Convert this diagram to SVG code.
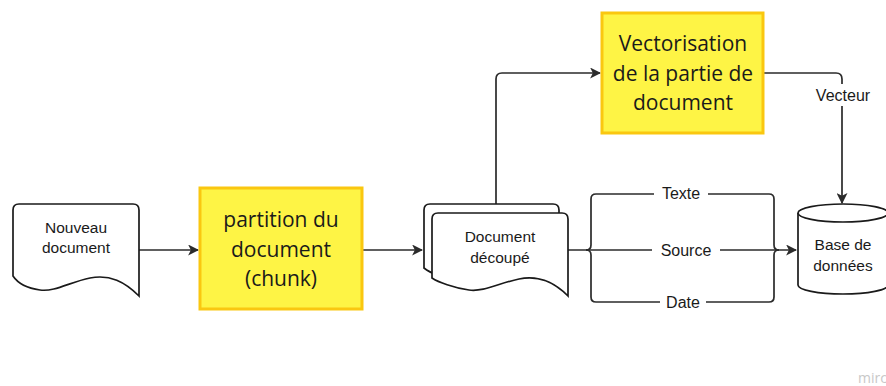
<svg xmlns="http://www.w3.org/2000/svg" width="886" height="386" viewBox="0 0 886 386">
<defs>
<marker id="ah" viewBox="0 0 10 10" refX="9" refY="5" markerWidth="11" markerHeight="11" markerUnits="userSpaceOnUse" orient="auto">
<path d="M0,0 L10,5 L0,10 L2.5,5 Z" fill="#2b2b2b"/>
</marker>
<style>
.doc{fill:#fff;stroke:#1a1a1a;stroke-width:1.7}
.box{fill:#fef445;stroke:#fac710;stroke-width:3}
.bt{font-family:"Open Sans","Noto Sans",sans-serif;font-size:21px;fill:#1a1a1a;text-anchor:middle}
.dt{font-family:"Liberation Sans",Arial,sans-serif;font-size:15.5px;fill:#1a1a1a;text-anchor:middle}
.ln{fill:none;stroke:#2b2b2b;stroke-width:1.7}
.lb{font-family:"Liberation Sans",Arial,sans-serif;font-size:16px;fill:#1a1a1a;text-anchor:middle}
</style>
</defs>
<rect width="886" height="386" fill="#fff"/>
<g id="connectors">
<path class="ln" d="M139,250 L198,250" marker-end="url(#ah)"/>
<path class="ln" d="M363,250 L422,250" marker-end="url(#ah)"/>
<path class="ln" d="M496,204 L496,79 Q496,73 502,73 L600,73" marker-end="url(#ah)"/>
<path class="ln" d="M764,73 L836,73 Q842,73 842,79 L842,203" marker-end="url(#ah)"/>
<path class="ln" d="M568,250 L796,250" marker-end="url(#ah)"/>
<path class="ln" d="M586,250 Q591,250 591,245 L591,199 Q591,194 596,194 L769,194 Q774,194 774,199 L774,245 Q774,250 779,250"/>
<path class="ln" d="M586,250 Q591,250 591,255 L591,297 Q591,302 596,302 L769,302 Q774,302 774,297 L774,255 Q774,250 779,250"/>
<rect x="654" y="183" width="54" height="22" fill="#fff"/>
<text class="lb" x="681" y="199">Texte</text>
<rect x="652" y="239" width="68" height="22" fill="#fff"/>
<text class="lb" x="686" y="255.5">Source</text>
<rect x="660" y="291" width="46" height="22" fill="#fff"/>
<text class="lb" x="683" y="307.5">Date</text>
<rect x="810" y="84" width="66" height="22" fill="#fff"/>
<text class="lb" x="843" y="100.5">Vecteur</text>
</g>
<g id="nouveau-document">
<path class="doc" d="M13,210 Q13,204 19,204 L133,204 Q139,204 139,210 L139,296 C125,282 110,274 90,278 C70,282 55,292 40,290 C25,288 17,282 13,276 Z"/>
<text class="dt" x="76" y="233">Nouveau</text>
<text class="dt" x="76" y="253">document</text>
</g>
<g id="partition">
<rect class="box" x="200" y="188" width="162" height="121"/>
<text class="bt" x="281" y="227">partition du</text>
<text class="bt" x="281" y="257">document</text>
<text class="bt" x="281" y="286">(chunk)</text>
</g>
<g id="document-decoupe">
<path class="doc" d="M424,210 Q424,204 430,204 L553,204 Q559,204 559,210 L559,287 C545,273 530,266 510,270 C490,274 475,283 460,281 C445,279 430,273 424,268 Z"/>
<path class="doc" d="M432,219 Q432,213 438,213 L562,213 Q568,213 568,219 L568,296 C554,282 539,275 519,279 C499,283 484,292 469,290 C454,288 438,282 432,278 Z"/>
<text class="dt" x="500" y="242">Document</text>
<text class="dt" x="500" y="263">découpé</text>
</g>
<g id="vectorisation">
<rect class="box" x="602" y="13" width="161" height="120"/>
<text class="bt" x="683" y="51">Vectorisation</text>
<text class="bt" x="683" y="81">de la partie de</text>
<text class="bt" x="683" y="110">document</text>
</g>
<g id="base-de-donnees">
<path class="doc" d="M798,213 L798,285 A45,9 0 0 0 888,285 L888,213"/>
<ellipse class="doc" cx="843" cy="213" rx="45" ry="9"/>
<text class="dt" x="843" y="250">Base de</text>
<text class="dt" x="843" y="271">données</text>
</g>
<text x="858" y="383" font-family="'Open Sans',sans-serif" font-size="14" fill="#c8c8c8">mirc</text>
</svg>
